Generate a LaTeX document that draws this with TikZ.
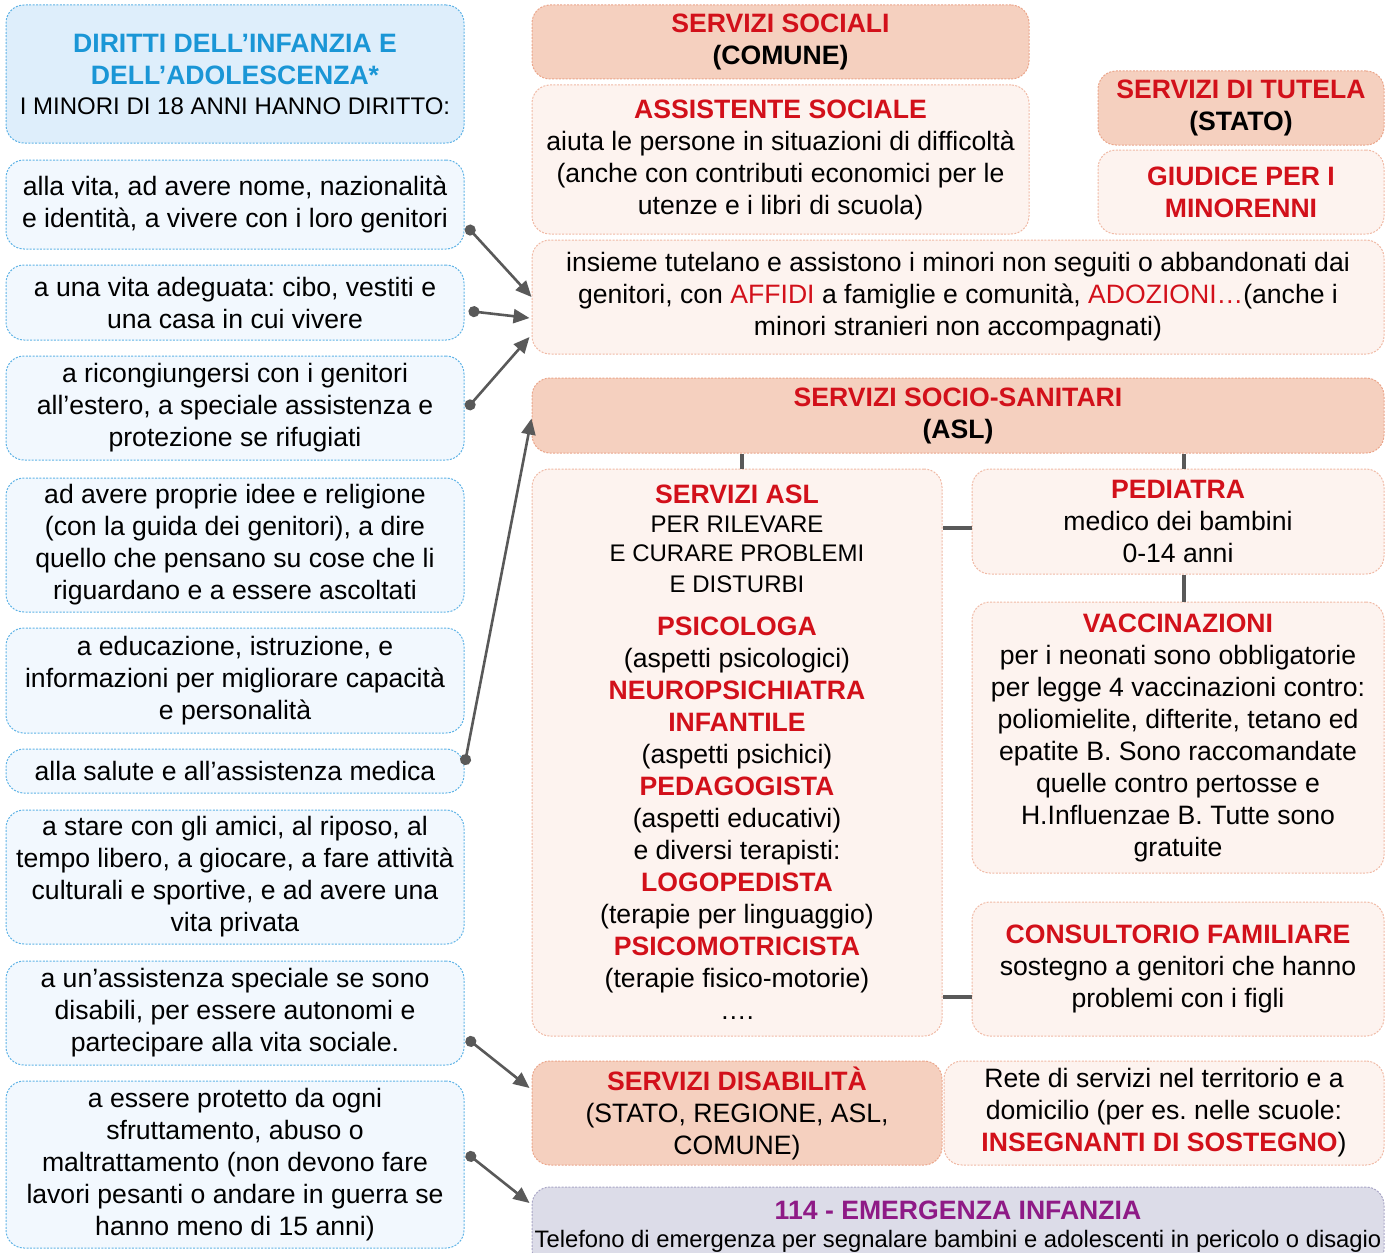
\documentclass[tikz,border=0pt]{standalone}
\usepackage{fontspec}
\setmainfont{Liberation Sans}
\usetikzlibrary{arrows.meta,calc}
\definecolor{tblue}{RGB}{26,150,214}
\definecolor{lblue}{RGB}{95,179,230}
\definecolor{ltitle}{RGB}{222,238,251}
\definecolor{lfill}{RGB}{242,248,254}
\definecolor{salfill}{RGB}{245,208,191}
\definecolor{salline}{RGB}{235,165,138}
\definecolor{palefill}{RGB}{253,243,239}
\definecolor{paleline}{RGB}{240,185,165}
\definecolor{tred}{RGB}{210,16,26}
\definecolor{lavfill}{RGB}{220,220,232}
\definecolor{lavline}{RGB}{169,166,198}
\definecolor{tpurple}{RGB}{142,26,134}
\definecolor{cgrey}{RGB}{89,89,89}
\newcommand\redb[1]{\textcolor{tred}{\bfseries #1}}
\newcommand\redr[1]{\textcolor{tred}{#1}}
\newcommand\fsnorm{\fontsize{13.3}{16}\selectfont}
\newcommand\smallline[1]{{\fontsize{12}{14.6}\selectfont #1}}
\frenchspacing
\begin{document}
\frenchspacing
\begin{tikzpicture}[x=0.5pt,y=-0.5pt,
  basebox/.style={rounded corners=9pt, dash pattern=on 1pt off 0.7pt, line width=0.5pt, align=center, inner sep=0pt, font=\fsnorm},
  lboxtitle/.style={basebox, draw=lblue, fill=ltitle},
  lbox/.style={basebox, draw=lblue, fill=lfill},
  sbox/.style={basebox, draw=salline, fill=salfill},
  pbox/.style={basebox, draw=paleline, fill=palefill},
  vbox/.style={basebox, draw=lavline, fill=lavfill},
  conn/.style={draw=cgrey, line width=1.3pt, {Circle[length=5.5pt]}-{Triangle[length=8pt,width=7pt]}},
  link/.style={draw=cgrey, line width=1.6pt}
]
\path[use as bounding box, clip] (0,0) rectangle (1396,1252);

% left column
\node[lboxtitle, minimum width=229pt, minimum height=69pt] (t) at (235,74)
 {\textcolor{tblue}{\bfseries DIRITTI DELL’INFANZIA E}\\ \textcolor{tblue}{\bfseries DELL’ADOLESCENZA*}\\[-1pt] \smallline{I MINORI DI 18 ANNI HANNO DIRITTO:}};
\node[lbox, minimum width=229pt, minimum height=44.5pt] (b2) at (235,204.5)
 {alla vita, ad avere nome, nazionalità\\ e identità, a vivere con i loro genitori};
\node[lbox, minimum width=229pt, minimum height=37.5pt] (b3) at (235,302.5)
 {a una vita adeguata: cibo, vestiti e\\ una casa in cui vivere};
\node[lbox, minimum width=229pt, minimum height=52pt] (b4) at (235,408)
 {a ricongiungersi con i genitori\\ all’estero, a speciale assistenza e\\ protezione se rifugiati};
\node[lbox, minimum width=229pt, minimum height=67pt] (b5) at (235,545)
 {ad avere proprie idee e religione\\ (con la guida dei genitori), a dire\\ quello che pensano su cose che li\\ riguardano e a essere ascoltati};
\node[lbox, minimum width=229pt, minimum height=52.5pt] (b6) at (235,680.5)
 {a educazione, istruzione, e\\ informazioni per migliorare capacità\\ e personalità};
\node[lbox, minimum width=229pt, minimum height=22pt] (b7) at (235,771)
 {alla salute e all’assistenza medica};
\node[lbox, minimum width=229pt, minimum height=67pt] (b8) at (235,877)
 {a stare con gli amici, al riposo, al\\ tempo libero, a giocare, a fare attività\\ culturali e sportive, e ad avere una\\ vita privata};
\node[lbox, minimum width=229pt, minimum height=52pt] (b9) at (235,1013)
 {a un’assistenza speciale se sono\\ disabili, per essere autonomi e\\ partecipare alla vita sociale.};
\node[lbox, minimum width=229pt, minimum height=83.5pt] (b10) at (235,1164.5)
 {a essere protetto da ogni\\ sfruttamento, abuso o\\ maltrattamento (non devono fare\\ lavori pesanti o andare in guerra se\\ hanno meno di 15 anni)};

% right column
\node[sbox, minimum width=248.5pt, minimum height=37pt] (A) at (780.5,42)
 {\redb{SERVIZI SOCIALI}\\ \textbf{(COMUNE)}};
\node[pbox, minimum width=248.5pt, minimum height=74.5pt] (B) at (780.5,159.5)
 {\redb{ASSISTENTE SOCIALE}\\ aiuta le persone in situazioni di difficoltà\\ (anche con contributi economici per le\\ utenze e i libri di scuola)};
\node[sbox, minimum width=143pt, minimum height=37pt] (C) at (1241,108)
 {\redb{SERVIZI DI TUTELA}\\ \textbf{(STATO)}};
\node[pbox, minimum width=143pt, minimum height=42pt] (D) at (1241,192)
 {\redb{GIUDICE PER I}\\ \redb{MINORENNI}};
\node[pbox, minimum width=426pt, minimum height=57pt] (E) at (958,297)
 {insieme tutelano e assistono i minori non seguiti o abbandonati dai\\ genitori, con \redr{AFFIDI} a famiglie e comunità, \redr{ADOZIONI…}(anche i\\ minori stranieri non accompagnati)};
\node[sbox, minimum width=426pt, minimum height=37.5pt] (F) at (958,415.5)
 {\redb{SERVIZI SOCIO-SANITARI}\\ \textbf{(ASL)}};
\node[pbox, minimum width=205pt, minimum height=283.5pt] (G) at (737,752.5)
 {\redb{SERVIZI ASL}\\[-1.5pt] \smallline{PER RILEVARE}\\[-1.5pt] \smallline{E CURARE PROBLEMI}\\[-0.5pt] \smallline{E DISTURBI}\\[5.5pt]
  \redb{PSICOLOGA}\\ (aspetti psicologici)\\ \redb{NEUROPSICHIATRA}\\ \redb{INFANTILE}\\ (aspetti psichici)\\
  \redb{PEDAGOGISTA}\\ (aspetti educativi)\\ e diversi terapisti:\\ \redb{LOGOPEDISTA}\\ (terapie per linguaggio)\\
  \redb{PSICOMOTRICISTA}\\ (terapie fisico-motorie)\\ ….};
\node[pbox, minimum width=206pt, minimum height=52.5pt] (H) at (1178,521.5)
 {\redb{PEDIATRA}\\ medico dei bambini\\ 0-14 anni};
\node[pbox, minimum width=206pt, minimum height=135.5pt] (I) at (1178,737.5)
 {\redb{VACCINAZIONI}\\ per i neonati sono obbligatorie\\ per legge 4 vaccinazioni contro:\\ poliomielite, difterite, tetano ed\\ epatite B. Sono raccomandate\\ quelle contro pertosse e\\ H.Influenzae B. Tutte sono\\ gratuite};
\node[pbox, minimum width=206pt, minimum height=67pt] (J) at (1178,969)
 {\redb{CONSULTORIO FAMILIARE}\\ sostegno a genitori che hanno\\ problemi con i figli};
\node[sbox, minimum width=205pt, minimum height=52pt] (K) at (737,1113)
 {\redb{SERVIZI DISABILITÀ}\\ (STATO, REGIONE, ASL,\\ COMUNE)};
\node[pbox, minimum width=220pt, minimum height=52pt] (L) at (1164,1113)
 {Rete di servizi nel territorio e a\\ domicilio (per es. nelle scuole:\\ \redb{INSEGNANTI DI SOSTEGNO})};
\node[vbox, minimum width=426pt, minimum height=40pt] (M) at (958,1227)
 {\textcolor{tpurple}{\bfseries 114 - EMERGENZA INFANZIA}\\[-2pt] {\fontsize{11.9}{14}\selectfont Telefono di emergenza per segnalare bambini e adolescenti in pericolo o disagio}};

% arrows
\draw[conn] ($(b2.east)+(2,21.5)$) -- (E.west);
\draw[conn] ($(b3.east)+(4,8.5)$) -- ($(E.west)+(-2,21)$);
\draw[conn] ($(b4.east)+(2,1)$) -- ($(E.west)+(-2,40)$);
\draw[conn] ($(b7.east)+(0,-6)$) -- ($(F.west)+(0,3)$);
\draw[conn] ($(b9.east)+(2,25)$) -- ($(K.west)+(-2,-25)$);
\draw[conn] ($(b10.east)+(2,-11.5)$) -- ($(M.west)+(-2,-24)$);

% plain links
\draw[link] ([xshift=2.5pt]G.north) -- ([xshift=2.5pt]G.north |- F.south);
\draw[link] ([xshift=3pt]H.north) -- ([xshift=3pt]H.north |- F.south);
\draw[link] ([xshift=3pt]H.south) -- ([xshift=3pt]I.north);
\draw[link] ([yshift=-3.25pt]H.west) -- ([yshift=-3.25pt]H.west -| G.east);
\draw[link] ([yshift=-14pt]J.west) -- ([yshift=-14pt]J.west -| G.east);
\end{tikzpicture}
\end{document}
